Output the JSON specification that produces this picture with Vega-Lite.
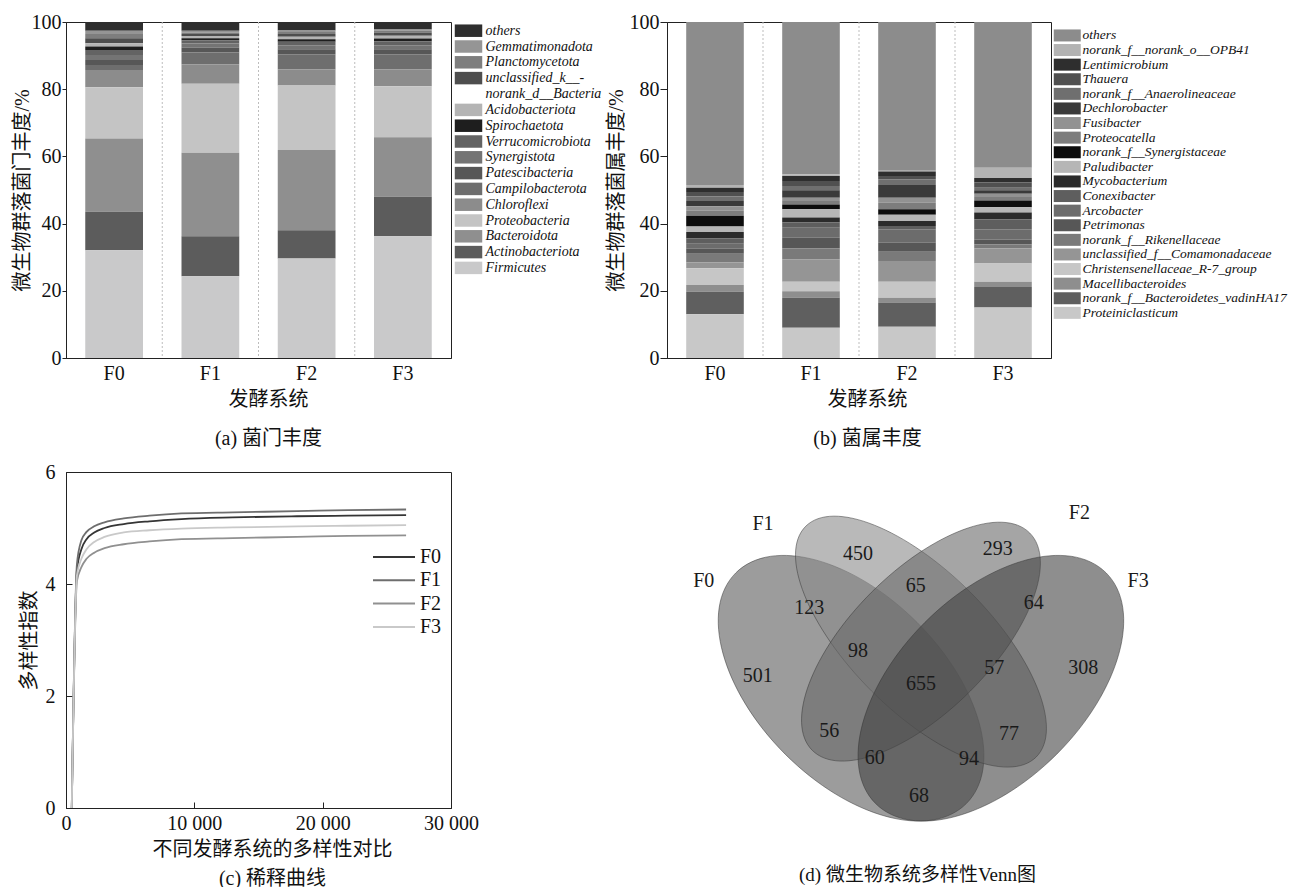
{
  "$schema": "https://vega.github.io/schema/vega-lite/v6.json",
  "background": "white",
  "padding": {"left": 11, "top": 11, "right": 0, "bottom": 0},
  "config": {
    "font": "Liberation Serif, Noto Sans CJK SC",
    "view": {"stroke": "#222", "strokeWidth": 1},
    "axis": {"labelFont": "Liberation Serif, Noto Sans CJK SC", "titleFont": "Liberation Serif, Noto Sans CJK SC", "labelFontSize": 20, "titleFontSize": 20, "titleFontWeight": "normal", "labelColor": "#111", "titleColor": "#111", "domainColor": "#222", "tickColor": "#222", "grid": false, "labelFlush": false, "labelOverlap": false},
    "legend": {"labelFont": "Liberation Serif", "labelColor": "#111", "padding": 0, "labelLimit": 400}
  },
  "datasets": {
    "phylum": [
      {"t":"others","k":15,"F0":2.6,"F1":2.6,"F2":2.5,"F3":2.2},
      {"t":"Gemmatimonadota","k":14,"F0":1.0,"F1":0.5,"F2":0.5,"F3":0.4},
      {"t":"Planctomycetota","k":13,"F0":1.2,"F1":0.5,"F2":0.6,"F3":0.5},
      {"t":"unclassified_k__norank_d__Bacteria","k":12,"F0":1.5,"F1":0.6,"F2":0.8,"F3":1.0},
      {"t":"Acidobacteriota","k":11,"F0":1.0,"F1":0.6,"F2":0.7,"F3":0.8},
      {"t":"Spirochaetota","k":10,"F0":1.0,"F1":0.6,"F2":0.8,"F3":0.8},
      {"t":"Verrucomicrobiota","k":9,"F0":1.5,"F1":1.0,"F2":1.0,"F3":1.2},
      {"t":"Synergistota","k":8,"F0":1.5,"F1":1.2,"F2":1.2,"F3":1.2},
      {"t":"Patescibacteria","k":7,"F0":1.5,"F1":1.5,"F2":1.5,"F3":1.5},
      {"t":"Campilobacterota","k":6,"F0":1.5,"F1":3.5,"F2":4.5,"F3":4.5},
      {"t":"Chloroflexi","k":5,"F0":5.1,"F1":5.8,"F2":4.8,"F3":5.0},
      {"t":"Proteobacteria","k":4,"F0":15.3,"F1":20.5,"F2":19.2,"F3":15.2},
      {"t":"Bacteroidota","k":3,"F0":21.8,"F1":24.9,"F2":23.9,"F3":17.7},
      {"t":"Actinobacteriota","k":2,"F0":11.4,"F1":11.9,"F2":8.4,"F3":11.8},
      {"t":"Firmicutes","k":1,"F0":32.1,"F1":24.3,"F2":29.6,"F3":36.2}
    ],
    "genus": [
      {"t":"others","k":20,"F0":48.5,"F1":45.3,"F2":44.3,"F3":43.4},
      {"t":"norank_f__norank_o__OPB41","k":19,"F0":0.8,"F1":0.5,"F2":0.2,"F3":3.0},
      {"t":"Lentimicrobium","k":18,"F0":1.3,"F1":1.5,"F2":1.3,"F3":1.4},
      {"t":"Thauera","k":17,"F0":1.3,"F1":1.5,"F2":1.0,"F3":1.5},
      {"t":"norank_f__Anaerolineaceae","k":16,"F0":1.4,"F1":1.3,"F2":1.7,"F3":0.8},
      {"t":"Dechlorobacter","k":15,"F0":1.5,"F1":2.2,"F2":3.8,"F3":1.0},
      {"t":"Fusibacter","k":14,"F0":1.4,"F1":1.0,"F2":1.5,"F3":1.0},
      {"t":"Proteocatella","k":13,"F0":1.5,"F1":1.0,"F2":1.9,"F3":1.0},
      {"t":"norank_f__Synergistaceae","k":12,"F0":3.2,"F1":1.4,"F2":1.7,"F3":2.0},
      {"t":"Paludibacter","k":11,"F0":1.6,"F1":2.5,"F2":1.8,"F3":1.6},
      {"t":"Mycobacterium","k":10,"F0":1.9,"F1":1.5,"F2":1.5,"F3":2.0},
      {"t":"Conexibacter","k":9,"F0":1.6,"F1":1.5,"F2":1.0,"F3":3.0},
      {"t":"Arcobacter","k":8,"F0":1.5,"F1":3.0,"F2":4.0,"F3":3.0},
      {"t":"Petrimonas","k":7,"F0":1.5,"F1":3.2,"F2":2.7,"F3":1.5},
      {"t":"norank_f__Rikenellaceae","k":6,"F0":2.6,"F1":3.2,"F2":2.7,"F3":1.2},
      {"t":"unclassified_f__Comamonadaceae","k":5,"F0":1.7,"F1":6.7,"F2":6.2,"F3":4.5},
      {"t":"Christensenellaceae_R-7_group","k":4,"F0":5.0,"F1":2.8,"F2":4.8,"F3":5.4},
      {"t":"Macellibacteroides","k":3,"F0":2.0,"F1":2.0,"F2":1.4,"F3":1.6},
      {"t":"norank_f__Bacteroidetes_vadinHA17","k":2,"F0":6.7,"F1":8.9,"F2":7.2,"F3":6.1},
      {"t":"Proteiniclasticum","k":1,"F0":13.0,"F1":9.0,"F2":9.3,"F3":15.0}
    ],
    "rare": [
      {"x":450,"F0":0,"F1":0,"F2":0,"F3":0},
      {"x":850,"F0":4.25,"F1":4.35,"F2":4.05,"F3":4.15},
      {"x":1200,"F0":4.62,"F1":4.78,"F2":4.30,"F3":4.45},
      {"x":1600,"F0":4.80,"F1":4.93,"F2":4.45,"F3":4.62},
      {"x":2200,"F0":4.92,"F1":5.03,"F2":4.56,"F3":4.75},
      {"x":3000,"F0":5.00,"F1":5.10,"F2":4.64,"F3":4.84},
      {"x":4500,"F0":5.07,"F1":5.17,"F2":4.71,"F3":4.92},
      {"x":6500,"F0":5.12,"F1":5.22,"F2":4.76,"F3":4.96},
      {"x":9000,"F0":5.16,"F1":5.26,"F2":4.80,"F3":4.99},
      {"x":13000,"F0":5.19,"F1":5.28,"F2":4.82,"F3":5.01},
      {"x":18000,"F0":5.21,"F1":5.30,"F2":4.84,"F3":5.03},
      {"x":22000,"F0":5.22,"F1":5.32,"F2":4.86,"F3":5.04},
      {"x":26500,"F0":5.23,"F1":5.33,"F2":4.87,"F3":5.05}
    ],
    "venn": [
      {"set":"F0","x":0.35,"y":0.47},
      {"set":"F1","x":0.5,"y":0.57},
      {"set":"F2","x":0.5,"y":0.57},
      {"set":"F3","x":0.65,"y":0.47}
    ],
    "vennlab": [
      {"lab":"F0","x":0.034,"y":0.700},
      {"lab":"F1","x":0.161,"y":0.822},
      {"lab":"F2","x":0.840,"y":0.845},
      {"lab":"F3","x":0.966,"y":0.700},
      {"lab":"450","x":0.365,"y":0.758},
      {"lab":"293","x":0.665,"y":0.769},
      {"lab":"123","x":0.260,"y":0.642},
      {"lab":"65","x":0.489,"y":0.689},
      {"lab":"64","x":0.742,"y":0.653},
      {"lab":"98","x":0.365,"y":0.550},
      {"lab":"655","x":0.500,"y":0.479},
      {"lab":"57","x":0.657,"y":0.514},
      {"lab":"501","x":0.150,"y":0.496},
      {"lab":"308","x":0.848,"y":0.514},
      {"lab":"56","x":0.303,"y":0.378},
      {"lab":"77","x":0.689,"y":0.372},
      {"lab":"60","x":0.401,"y":0.320},
      {"lab":"94","x":0.603,"y":0.318},
      {"lab":"68","x":0.496,"y":0.239}
    ]
  },
  "columns": 2,
  "bounds": "flush",
  "spacing": {"row": 114, "column": 216},
  "resolve": {"scale": {"x": "independent", "y": "independent", "color": "independent", "shape": "independent"}, "legend": {"color": "independent"}},
  "concat": [
    {
      "width": 385, "height": 336,
      "layer": [
        {
          "data": {"name": "phylum"},
          "transform": [{"fold": ["F0", "F1", "F2", "F3"], "as": ["s", "v"]}],
          "mark": {"type": "bar"},
          "encoding": {
            "x": {"field": "s", "type": "nominal", "scale": {"paddingInner": 0.4, "paddingOuter": 0.2},
                  "axis": {"title": ["发酵系统", "(a) 菌门丰度"], "titleLineHeight": 39, "titleY": 31, "titleX": 202, "titleBaseline": "top", "labelAngle": 0, "ticks": false, "labelPadding": 5}},
            "y": {"field": "v", "type": "quantitative", "stack": "zero", "scale": {"domain": [0, 100], "nice": false},
                  "axis": {"values": [0, 20, 40, 60, 80, 100], "title": "微生物群落菌门丰度/%", "tickSize": 4, "labelPadding": 1, "titleX": -44, "titleY": 168, "titleBaseline": "middle"}},
            "color": {"field": "t", "type": "nominal",
                      "scale": {"domain": ["others","Gemmatimonadota","Planctomycetota","unclassified_k__norank_d__Bacteria","Acidobacteriota","Spirochaetota","Verrucomicrobiota","Synergistota","Patescibacteria","Campilobacterota","Chloroflexi","Proteobacteria","Bacteroidota","Actinobacteriota","Firmicutes"],
                                "range": ["#2e2e2e","#959595","#7e7e7e","#4e4e4e","#b4b4b4","#1e1e1e","#636363","#747474","#575757","#6e6e6e","#8c8c8c","#c4c4c4","#8f8f8f","#5c5c5c","#c9c9ca"]},
                      "legend": {"title": null, "orient": "none", "legendX": 395.5, "legendY": 1.7, "symbolType": "M-2.2,-1H2.2V1H-2.2Z", "symbolSize": 156, "symbolStrokeWidth": 0, "symbolOpacity": 1, "labelFontStyle": "italic", "labelFontSize": 14, "labelOffset": 10, "rowPadding": 1.8,
                                 "labelExpr": "datum.label == 'unclassified_k__norank_d__Bacteria' ? ['unclassified_k__-', 'norank_d__Bacteria'] : datum.label"}},
            "order": {"field": "k", "type": "quantitative"}
          }
        },
        {
          "data": {"values": [{"s": "F1"}, {"s": "F2"}, {"s": "F3"}]},
          "mark": {"type": "rule", "xOffset": -19.25, "color": "#bdbdbd", "strokeDash": [2, 2], "strokeWidth": 1},
          "encoding": {"x": {"field": "s", "type": "nominal", "bandPosition": 0}}
        }
      ]
    },
    {
      "width": 384, "height": 336,
      "layer": [
        {
          "data": {"name": "genus"},
          "transform": [{"fold": ["F0", "F1", "F2", "F3"], "as": ["s", "v"]}],
          "mark": {"type": "bar"},
          "encoding": {
            "x": {"field": "s", "type": "nominal", "scale": {"paddingInner": 0.4, "paddingOuter": 0.2},
                  "axis": {"title": ["发酵系统", "(b) 菌属丰度"], "titleLineHeight": 39, "titleY": 31, "titleX": 200, "titleBaseline": "top", "labelAngle": 0, "ticks": false, "labelPadding": 5}},
            "y": {"field": "v", "type": "quantitative", "stack": "zero", "scale": {"domain": [0, 100], "nice": false},
                  "axis": {"values": [0, 20, 40, 60, 80, 100], "title": "微生物群落菌属丰度/%", "tickSize": 7, "labelPadding": 1, "titleX": -51, "titleY": 168, "titleBaseline": "middle"}},
            "color": {"field": "t", "type": "nominal",
                      "scale": {"domain": ["others","norank_f__norank_o__OPB41","Lentimicrobium","Thauera","norank_f__Anaerolineaceae","Dechlorobacter","Fusibacter","Proteocatella","norank_f__Synergistaceae","Paludibacter","Mycobacterium","Conexibacter","Arcobacter","Petrimonas","norank_f__Rikenellaceae","unclassified_f__Comamonadaceae","Christensenellaceae_R-7_group","Macellibacteroides","norank_f__Bacteroidetes_vadinHA17","Proteiniclasticum"],
                                "range": ["#8c8c8c","#b3b3b3","#2e2e2e","#505050","#6f6f6f","#3a3a3a","#929292","#7d7d7d","#0d0d0d","#b6b6b6","#2b2b2b","#5e5e5e","#6c6c6c","#575757","#7a7a7a","#959595","#c6c6c6","#8e8e8e","#5f5f5f","#c8c8c8"]},
                      "legend": {"title": null, "orient": "none", "legendX": 393.5, "legendY": 6.7, "symbolType": "M-2.25,-1H2.25V1H-2.25Z", "symbolSize": 144, "symbolStrokeWidth": 0, "symbolOpacity": 1, "labelFontStyle": "italic", "labelFontSize": 13.5, "labelOffset": 8.5, "rowPadding": -0.4}},
            "order": {"field": "k", "type": "quantitative"}
          }
        },
        {
          "data": {"values": [{"s": "F1"}, {"s": "F2"}, {"s": "F3"}]},
          "mark": {"type": "rule", "xOffset": -19.2, "color": "#bdbdbd", "strokeDash": [2, 2], "strokeWidth": 1},
          "encoding": {"x": {"field": "s", "type": "nominal", "bandPosition": 0}}
        }
      ]
    },
    {
      "width": 385, "height": 336,
      "data": {"name": "rare"},
      "transform": [{"fold": ["F0", "F1", "F2", "F3"], "as": ["s", "y"]}],
      "mark": {"type": "line", "strokeWidth": 1.8, "interpolate": "monotone"},
      "encoding": {
        "x": {"field": "x", "type": "quantitative", "scale": {"domain": [0, 30000], "nice": false},
              "axis": {"values": [0, 10000, 20000, 30000], "labelExpr": "replace(format(datum.value, ','), ',', ' ')", "tickSize": -6, "labelPadding": 11,
                       "title": ["不同发酵系统的多样性对比", "(c) 稀释曲线"], "titleLineHeight": 29, "titleY": 31, "titleX": 206, "titleBaseline": "top"}},
        "y": {"field": "y", "type": "quantitative", "scale": {"domain": [0, 6], "nice": false},
              "axis": {"values": [0, 2, 4, 6], "tickSize": -6, "labelPadding": 17, "title": "多样性指数", "titleX": -37, "titleY": 168, "titleBaseline": "middle"}},
        "color": {"field": "s", "type": "nominal",
                  "scale": {"domain": ["F0", "F1", "F2", "F3"], "range": ["#353535", "#6e6e6e", "#909090", "#c9c9c9"]},
                  "legend": {"title": null, "orient": "none", "legendX": 316.5, "legendY": 73.5, "symbolType": "M-2,0H2", "symbolSize": 441, "symbolStrokeWidth": 2, "labelFontSize": 20, "labelOffset": 14.5, "rowPadding": 1.3}}
      }
    },
    {
      "width": 466, "height": 336,
      "view": {"stroke": null},
      "layer": [
        {
          "data": {"name": "venn"},
          "mark": {"type": "point", "filled": true, "size": 40000, "opacity": 1, "fillOpacity": 0.6, "stroke": "#333", "strokeWidth": 1, "strokeOpacity": 0.5},
          "encoding": {
            "x": {"field": "x", "type": "quantitative", "scale": {"domain": [-0.045, 0.955], "nice": false, "zero": false},
                  "axis": {"domain": false, "ticks": false, "labels": false, "grid": false, "title": "(d) 微生物系统多样性Venn图", "titleX": 250, "titleY": 66, "titleBaseline": "middle", "titleFontSize": 19}},
            "y": {"field": "y", "type": "quantitative", "scale": {"domain": [0.213, 0.934], "nice": false, "zero": false}, "axis": null},
            "shape": {"field": "set", "type": "nominal", "legend": null,
                      "scale": {"domain": ["F0", "F1", "F2", "F3"],
                                "range": [
                                  "M-1.153,-1.153C-1.517,-0.789,-1.296,0.022,-0.659,0.659C-0.022,1.296,0.789,1.517,1.153,1.153C1.517,0.789,1.296,-0.022,0.659,-0.659C0.022,-1.296,-0.789,-1.517,-1.153,-1.153Z",
                                  "M-1.153,-1.153C-1.426,-0.880,-1.131,-0.143,-0.494,0.494C0.143,1.131,0.880,1.426,1.153,1.153C1.426,0.880,1.131,0.143,0.494,-0.494C-0.143,-1.131,-0.880,-1.426,-1.153,-1.153Z",
                                  "M1.087,-1.087C0.814,-1.360,0.107,-1.095,-0.494,-0.494C-1.095,0.107,-1.360,0.814,-1.087,1.087C-0.814,1.360,-0.107,1.095,0.494,0.494C1.095,-0.107,1.360,-0.814,1.087,-1.087Z",
                                  "M1.153,-1.153C1.517,-0.789,1.296,0.022,0.659,0.659C0.022,1.296,-0.789,1.517,-1.153,1.153C-1.517,0.789,-1.296,-0.022,-0.659,-0.659C-0.022,-1.296,0.789,-1.517,1.153,-1.153Z"
                                ]}},
            "color": {"field": "set", "type": "nominal", "legend": null,
                      "scale": {"domain": ["F0", "F1", "F2", "F3"], "range": ["#5a5a5a", "#8a8a8a", "#696969", "#434343"]}}
          }
        },
        {
          "data": {"name": "vennlab"},
          "mark": {"type": "text", "fontSize": 20, "font": "Liberation Serif", "color": "#1a1a1a"},
          "encoding": {
            "x": {"field": "x", "type": "quantitative"},
            "y": {"field": "y", "type": "quantitative"},
            "text": {"field": "lab"}
          }
        }
      ]
    }
  ]
}
